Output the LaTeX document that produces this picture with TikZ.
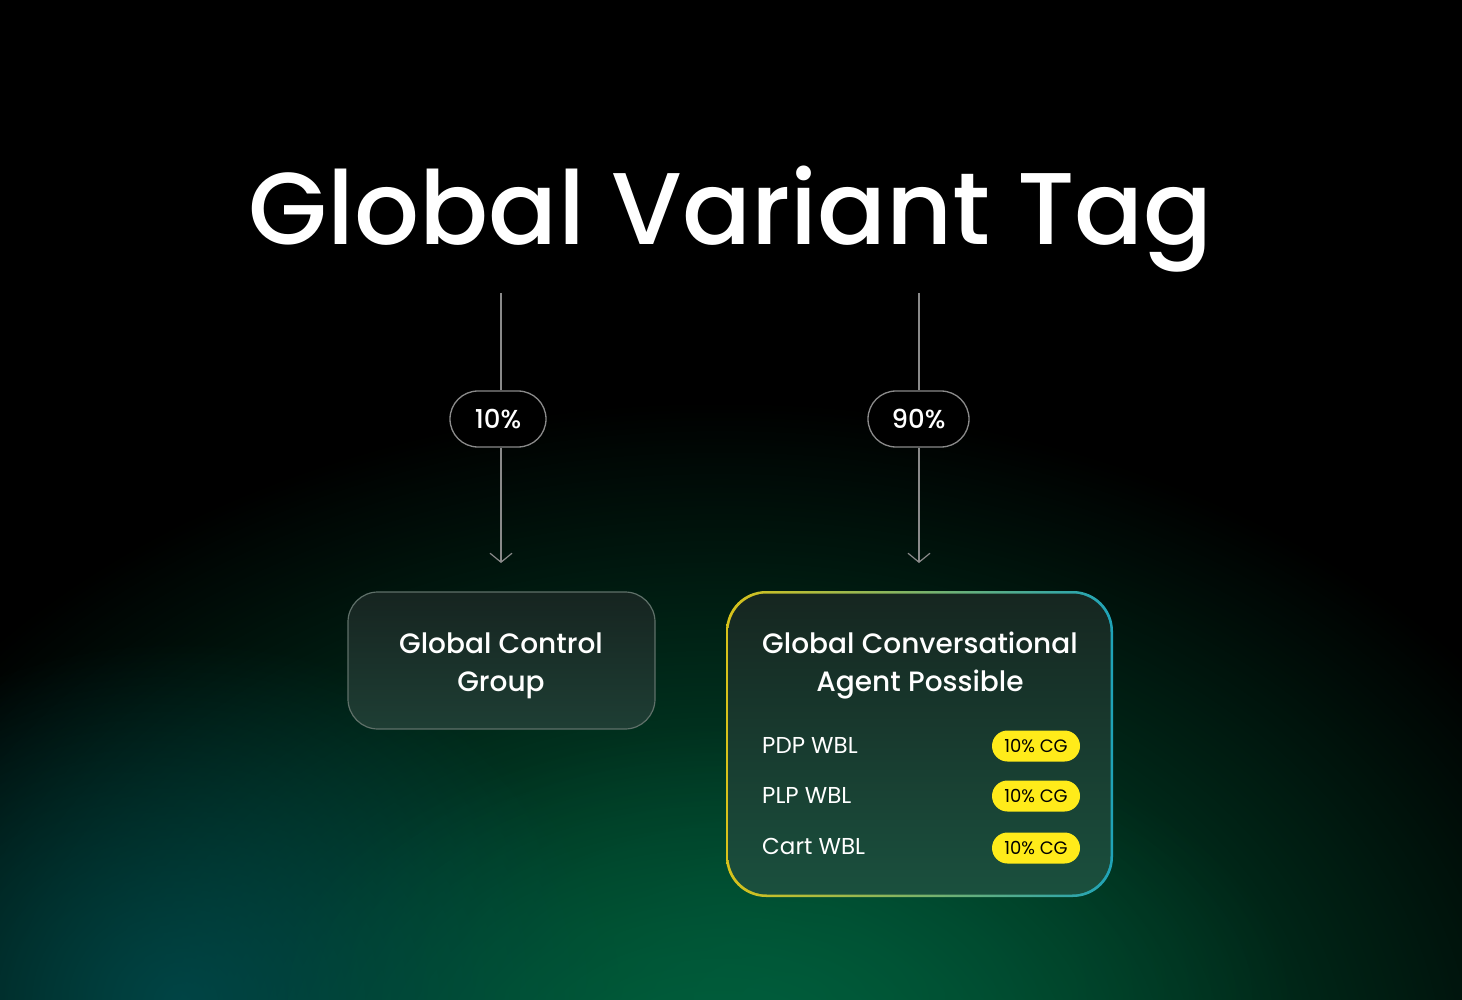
\documentclass[tikz,border=0pt]{standalone}
\usepackage{fontspec}
\setmainfont{Poppins}
\newfontfamily\medfont{Poppins Medium}
\usetikzlibrary{arrows.meta,fadings,shapes.misc}
\tikzfading[name=glow, inner color=transparent!0, outer color=transparent!100]
\definecolor{linegray}{HTML}{8A8A8A}
\definecolor{pillyellow}{HTML}{FFEB1A}
\definecolor{borderyellow}{HTML}{D8C21A}
\definecolor{borderteal}{HTML}{1FA3B8}
\begin{document}
\begin{tikzpicture}[x=1pt,y=-1pt,
  connector/.style={draw=linegray, line width=1.2pt, -{Straight Barb[length=9pt,width=22pt,line width=1.2pt]}},
  pctpill/.style={draw=linegray, line width=1.3pt, fill=black, rounded rectangle, minimum width=96pt, minimum height=56pt, text=white, font=\medfont\fontsize{26}{30}\selectfont, inner sep=0pt},
  rowtext/.style={text=white, font=\fontsize{23}{27}\selectfont, anchor=base west, inner sep=0pt},
  cgpill/.style={fill=pillyellow, rounded rectangle, minimum width=88pt, minimum height=31pt, text=black, font=\fontsize{18}{20}\selectfont, inner sep=0pt},
  boxtitle/.style={text=white, font=\medfont\fontsize{28}{38}\selectfont, align=center, inner sep=0pt}
]
\useasboundingbox (0,0) rectangle (1462,1000);
% background
\fill[black] (0,0) rectangle (1462,1000);
\fill[color={rgb,255:red,0;green,100;blue,62}, path fading=glow] (720,1080) ellipse (950 and 680);
\fill[color={rgb,255:red,0;green,75;blue,80}, path fading=glow, opacity=0.8] (180,1000) ellipse (440 and 360);
\fill[color={rgb,255:red,0;green,95;blue,62}, path fading=glow, opacity=0.6] (780,1000) ellipse (520 and 280);

% title
\node[text=white, font=\medfont\fontsize{102}{120}\selectfont, anchor=base, inner sep=0pt] (title) at (731,245) {Global Variant Tag};

% percentage pills
\coordinate (s1) at (501,293);
\coordinate (s2) at (919,293);
\node[pctpill] (p1) at (498,419) {10\%};
\node[pctpill, minimum width=101pt] (p2) at (918.5,419) {90\%};
\coordinate (e1) at (501,563);
\coordinate (e2) at (919,563);
\draw[draw=linegray, line width=1.2pt] (s1) -- (s1 |- p1.north);
\draw[draw=linegray, line width=1.2pt] (s2) -- (s2 |- p2.north);
\draw[connector] (s1 |- p1.south) -- (e1);
\draw[connector] (s2 |- p2.south) -- (e2);

% left box
\shade[top color={rgb,255:red,22;green,36;blue,32}, bottom color={rgb,255:red,30;green,62;blue,52}, rounded corners=30pt] (348,592) rectangle (655,729);
\draw[draw={rgb,255:red,95;green,112;blue,105}, line width=1.2pt, rounded corners=30pt] (348,592) rectangle (655,729);
\node[boxtitle] (b1) at (501,666) {Global Control\\Group};

% right box with gradient border
\shade[left color=borderyellow, right color=borderteal, rounded corners=40pt] (726,591) rectangle (1113,897);
\shade[top color={rgb,255:red,22;green,38;blue,32}, bottom color={rgb,255:red,26;green,80;blue,62}, rounded corners=38.5pt] (728.5,593.5) rectangle (1110.5,894.5);
\node[boxtitle] (b2) at (920,666) {Global Conversational\\Agent Possible};

\node[rowtext] (r1) at (762,753) {PDP WBL};
\node[rowtext] (r2) at (762,803) {PLP WBL};
\node[rowtext] (r3) at (762,854) {Cart WBL};
\node[cgpill] (c1) at (1036,746) {10\% CG};
\node[cgpill] (c2) at (1036,796) {10\% CG};
\node[cgpill] (c3) at (1036,848) {10\% CG};
\end{tikzpicture}
\end{document}
